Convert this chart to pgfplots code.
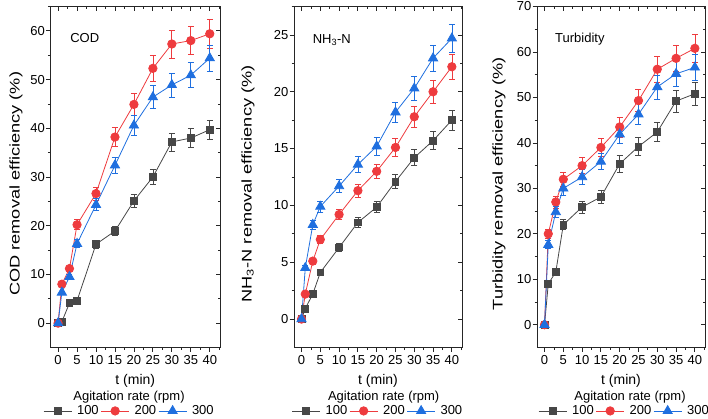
\documentclass[border=0pt]{standalone}
\usepackage{pgfplots}
\pgfplotsset{compat=1.18}
\usepackage{pgfplotstable}
\usepackage{graphicx}
\usepackage{fontspec}
\setmainfont{Liberation Sans}
\definecolor{cgray}{HTML}{474747}
\definecolor{cred}{HTML}{EE3B3E}
\definecolor{cblue}{HTML}{1F6FDF}

\pgfplotstableread{
t g ge r re b be
0 0 0 0 0 0 0
1 0.3 0.05 8.0 0.40 6.3 0.32
3 4.1 0.21 11.2 0.56 9.5 0.48
5 4.6 0.23 20.2 1.01 16.3 0.82
10 16.2 0.81 26.6 1.33 24.3 1.22
15 18.9 0.95 38.2 1.91 32.4 1.62
20 25.1 1.26 44.9 2.25 40.6 2.03
25 30.0 1.50 52.3 2.62 46.4 2.32
30 37.2 1.86 57.3 2.87 48.9 2.45
35 38.0 1.90 58.0 2.90 50.9 2.55
40 39.7 1.99 59.4 2.97 54.4 2.72
}\codtab

\pgfplotstableread{
t g ge r re b be
0 0 0 0 0 0 0
1 0.93 0.05 2.2 0.11 4.5 0.23
3 2.2 0.11 5.1 0.26 8.3 0.42
5 4.1 0.21 7.0 0.35 9.9 0.50
10 6.3 0.32 9.2 0.46 11.7 0.59
15 8.5 0.43 11.3 0.57 13.6 0.68
20 9.85 0.49 13.0 0.65 15.2 0.76
25 12.1 0.61 15.1 0.76 18.2 0.91
30 14.2 0.71 17.8 0.89 20.3 1.02
35 15.7 0.79 20.0 1.00 22.95 1.15
40 17.5 0.88 22.2 1.11 24.7 1.24
}\nhtab

\pgfplotstableread{
t g ge r re b be
0 0 0 0 0 0 0
1 9.0 0.45 20.0 1.00 17.6 0.88
3 11.6 0.58 27.0 1.35 24.8 1.24
5 22.0 1.10 32.0 1.60 30.0 1.50
10 25.9 1.30 35.0 1.75 32.5 1.63
15 28.1 1.41 39.0 1.95 35.9 1.80
20 35.4 1.77 43.5 2.18 41.9 2.10
25 39.2 1.96 49.3 2.47 46.3 2.32
30 42.4 2.12 56.2 2.81 52.3 2.62
35 49.2 2.46 58.6 2.93 55.2 2.76
40 50.8 2.54 60.8 3.04 56.6 2.83
}\turbtab

\pgfplotsset{
  panel/.style={scale only axis, height=341bp, xmin=-2, xmax=42.7,
    xtick={0,5,...,40}, minor xtick={2.5,7.5,...,42.5},
    axis line style={line width=0.8bp, black!85},
    tick style={line width=0.8bp, black!85},
    major tick length=4.5bp, minor tick length=2.5bp,
    tick label style={font=\fontsize{13bp}{15bp}\selectfont},
    /pgf/number format/assume math mode=true,
    anchor=south west},
  front/.style={panel, tick align=outside, xtick pos=left, ytick pos=left,
    yticklabel style={inner xsep=1bp},
    xlabel={t (min)},
    xlabel style={font=\fontsize{14bp}{16bp}\selectfont, at={(axis description cs:0.5,-0.097)}, anchor=center},
    ylabel style={font=\fontsize{14bp}{16bp}\selectfont, anchor=center},
    legend columns=3,
    legend style={draw=none, fill=none, inner sep=0pt, column sep=0pt, row sep=0pt,
      font=\fontsize{13bp}{15bp}\selectfont, nodes={inner sep=0pt}},
    legend image code/.code={\draw[mark repeat=2,mark phase=2,##1] plot coordinates {(0bp,0bp) (14bp,0bp) (28bp,0bp)};}},
  back/.style={panel, tick align=inside, xtick pos=right, ytick pos=right,
    xticklabels={}, yticklabels={}},
  sgray/.style={cgray, line width=0.8bp, mark=square*, mark size=3.4bp,
    mark options={fill=cgray, draw=cgray, solid},
    error bars/.cd, y dir=both, y explicit,
    error bar style={line width=0.7bp, cgray},
    error mark options={rotate=90, mark size=3bp, line width=0.7bp, cgray}},
  sred/.style={cred, line width=0.8bp, mark=*, mark size=4.2bp,
    mark options={fill=cred, draw=cred, solid},
    error bars/.cd, y dir=both, y explicit,
    error bar style={line width=0.7bp, cred},
    error mark options={rotate=90, mark size=3bp, line width=0.7bp, cred}},
  sblue/.style={cblue, line width=0.8bp, mark=triangle*, mark size=5.3bp,
    mark options={fill=cblue, draw=cblue, solid},
    error bars/.cd, y dir=both, y explicit,
    error bar style={line width=0.7bp, cblue},
    error mark options={rotate=90, mark size=3bp, line width=0.7bp, cblue}},
}

\begin{document}
\begin{tikzpicture}
\path[use as bounding box] (0bp,0bp) rectangle (708bp,419bp);

% ---------- COD ----------
\begin{axis}[back, at={(50.5bp,71.5bp)}, width=169.5bp, ymin=-5, ymax=65,
  ytick={0,10,...,60}, minor ytick={5,15,...,65}]
\end{axis}
\begin{axis}[front, at={(50.5bp,71.5bp)}, width=169.5bp, ymin=-5, ymax=65,
  ytick={0,10,...,60}, minor ytick={5,15,...,65},
  ylabel={\scalebox{1.3}[1]{COD removal efficiency (\%)}},
  ylabel style={at={(axis description cs:-0.204,0.48)}},
  legend style={at={(axis description cs:0.460,-0.186)}, anchor=center}]
\addplot[sgray] table[x=t, y=g, y error=ge] {\codtab};
\addlegendentry{\hspace*{5bp}100\hspace*{2bp}}
\addplot[sred] table[x=t, y=r, y error=re] {\codtab};
\addlegendentry{\hspace*{5bp}200\hspace*{2bp}}
\addplot[sblue] table[x=t, y=b, y error=be] {\codtab};
\addlegendentry{\hspace*{5bp}300}
\node[anchor=west, font=\fontsize{13bp}{15bp}\selectfont] at (axis description cs:0.096,0.908) {COD};
\end{axis}

% ---------- NH3-N ----------
\begin{axis}[back, at={(294bp,71.5bp)}, width=168bp, ymin=-2.5, ymax=27.5,
  ytick={0,5,...,25}, minor ytick={2.5,7.5,...,27.5}]
\end{axis}
\begin{axis}[front, at={(294bp,71.5bp)}, width=168bp, ymin=-2.5, ymax=27.5,
  ytick={0,5,...,25}, minor ytick={2.5,7.5,...,27.5},
  ylabel={\scalebox{1.3}[1]{NH\textsubscript{3}-N removal efficiency (\%)}},
  ylabel style={at={(axis description cs:-0.274,0.48)}},
  legend style={at={(axis description cs:0.494,-0.186)}, anchor=center}]
\addplot[sgray] table[x=t, y=g, y error=ge] {\nhtab};
\addlegendentry{\hspace*{5bp}100\hspace*{2bp}}
\addplot[sred] table[x=t, y=r, y error=re] {\nhtab};
\addlegendentry{\hspace*{5bp}200\hspace*{2bp}}
\addplot[sblue] table[x=t, y=b, y error=be] {\nhtab};
\addlegendentry{\hspace*{5bp}300}
\node[anchor=west, font=\fontsize{13bp}{15bp}\selectfont] at (axis description cs:0.091,0.902) {NH\textsubscript{3}-N};
\end{axis}

% ---------- Turbidity ----------
\begin{axis}[back, at={(537bp,71.5bp)}, width=168bp, ymin=-5, ymax=70,
  ytick={0,10,...,70}, minor ytick={5,15,...,65}]
\end{axis}
\begin{axis}[front, at={(537bp,71.5bp)}, width=168bp, ymin=-5, ymax=70,
  ytick={0,10,...,70}, minor ytick={5,15,...,65},
  ylabel={\scalebox{1.3}[1]{Turbidity removal efficiency (\%)}},
  ylabel style={at={(axis description cs:-0.226,0.48)}},
  legend style={at={(axis description cs:0.515,-0.186)}, anchor=center}]
\addplot[sgray] table[x=t, y=g, y error=ge] {\turbtab};
\addlegendentry{\hspace*{5bp}100\hspace*{2bp}}
\addplot[sred] table[x=t, y=r, y error=re] {\turbtab};
\addlegendentry{\hspace*{5bp}200\hspace*{2bp}}
\addplot[sblue] table[x=t, y=b, y error=be] {\turbtab};
\addlegendentry{\hspace*{5bp}300}
\node[anchor=west, font=\fontsize{13bp}{15bp}\selectfont] at (axis description cs:0.0875,0.905) {Turbidity};
\end{axis}

% legend titles
\node[font=\fontsize{13bp}{15bp}\selectfont] at (129bp,21.5bp) {Agitation rate (rpm)};
\node[font=\fontsize{13bp}{15bp}\selectfont] at (383.7bp,21.5bp) {Agitation rate (rpm)};
\node[font=\fontsize{13bp}{15bp}\selectfont] at (630bp,21.5bp) {Agitation rate (rpm)};
\end{tikzpicture}
\end{document}
